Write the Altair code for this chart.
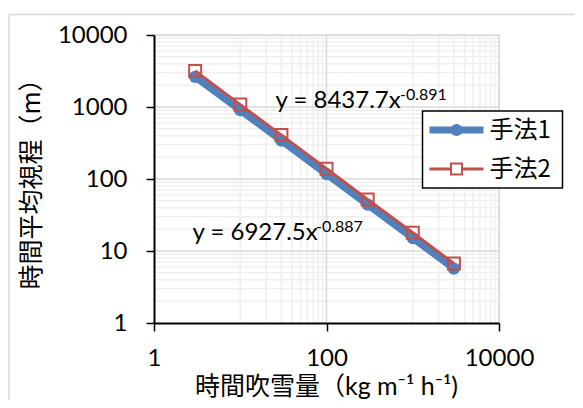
import altair as alt
import pandas as pd

# ---- data ----
x_vals = [3, 10, 30, 100, 300, 1000, 3000]
method1 = [2620, 900, 340, 117, 44, 15.1, 5.7]
method2 = [3170, 1080, 407, 139, 52, 17.9, 6.7]
series_names = ["手法1", "手法2"]
x_ticks = [1, 100, 10000]
y_ticks = [1, 10, 100, 1000, 10000]
x_minor = [10, 20, 30, 40, 50, 60, 70, 80, 90, 1000, 2000, 3000, 4000, 5000, 6000, 7000, 8000, 9000]
x_major = [100, 10000]
y_minor = [k * 10 ** n for n in range(4) for k in range(2, 10)]
y_major = [10, 100, 1000, 10000]
eq_main = ["y = 8437.7x", "y = 6927.5x"]
eq_exp = ["-0.891", "-0.887"]
x_title = "時間吹雪量（kg m⁻¹ h⁻¹)"
y_title = "時間平均視程（m）"

BLUE = "#4F81BD"
RED = "#C0504D"
LAT = "Lato, Noto Sans CJK JP"
CJK = "Noto Sans CJK JP, Lato"

xs = alt.Scale(type="log", domain=[1, 10000])
ys = alt.Scale(type="log", domain=[1, 10000])

common_axis = dict(title=None, grid=False, domainColor="black", domainWidth=2,
                   tickColor="black", tickWidth=1.5, tickSize=8, labelFont="Lato",
                   labelFontSize=24, labelColor="black", labelFlush=False,
                   labelOverlap=False, format="d", zindex=1)
x_axis = alt.Axis(values=x_ticks, labelPadding=15, **common_axis)
y_axis = alt.Axis(values=y_ticks, labelPadding=19, **common_axis)

X = alt.X("x:Q", scale=xs, axis=x_axis)
Y = alt.Y("y:Q", scale=ys, axis=y_axis)

df1 = pd.DataFrame({"x": x_vals, "y": method1})
df2 = pd.DataFrame({"x": x_vals, "y": method2})

gx_minor = alt.Chart(pd.DataFrame({"x": x_minor})).mark_rule(color="#efefef", strokeWidth=1.5).encode(x=X)
gy_minor = alt.Chart(pd.DataFrame({"y": y_minor})).mark_rule(color="#efefef", strokeWidth=1.5).encode(y=Y)
gx_major = alt.Chart(pd.DataFrame({"x": x_major})).mark_rule(color="#d9d9d9", strokeWidth=1.5).encode(x=X)
gy_major = alt.Chart(pd.DataFrame({"y": y_major})).mark_rule(color="#d9d9d9", strokeWidth=1.5).encode(y=Y)

line1 = alt.Chart(df1).mark_line(color=BLUE, strokeWidth=7).encode(x=X, y=Y)
pts1 = alt.Chart(df1).mark_point(shape="circle", filled=True, color=BLUE, size=150, opacity=1).encode(x=X, y=Y)
line2 = alt.Chart(df2).mark_line(color=RED, strokeWidth=3).encode(x=X, y=Y)
pts2 = alt.Chart(df2).mark_point(shape="square", filled=False, color=RED, size=144, strokeWidth=2, opacity=1).encode(x=X, y=Y)

one = pd.DataFrame({"a": [0]})


def txt(s, x, y, size, font=LAT, align="left", baseline="alphabetic", angle=0):
    return alt.Chart(pd.DataFrame({"t": [s]})).mark_text(
        font=font, fontSize=size, color="black", align=align, baseline=baseline, angle=angle
    ).encode(x=alt.value(x), y=alt.value(y), text="t:N")


eq1 = txt(eq_main[0], 121.5, 73, 24)
eq1s = txt(eq_exp[0], 246, 65, 16)
eq2 = txt(eq_main[1], 38.5, 205, 24)
eq2s = txt(eq_exp[1], 162, 197, 16)

xt = txt(x_title, 172.5, 352, 25, font=LAT, align="center", baseline="middle")
yt = txt(y_title, -122.5, 143, 25, font=CJK, align="center", baseline="middle", angle=270)

leg_box = alt.Chart(one).mark_rect(fill="white", stroke="black", strokeWidth=1.5).encode(
    x=alt.value(268.5), x2=alt.value(408.5), y=alt.value(76), y2=alt.value(153))
leg_l1 = alt.Chart(one).mark_rule(color=BLUE, strokeWidth=7).encode(
    x=alt.value(275.5), x2=alt.value(329.5), y=alt.value(95))
leg_p1 = alt.Chart(one).mark_point(shape="circle", filled=True, color=BLUE, size=150, opacity=1).encode(
    x=alt.value(302.5), y=alt.value(95))
leg_l2 = alt.Chart(one).mark_rule(color=RED, strokeWidth=3).encode(
    x=alt.value(275.5), x2=alt.value(329.5), y=alt.value(134))
leg_p2 = alt.Chart(one).mark_point(shape="square", fill="white", stroke=RED, size=120, strokeWidth=2, opacity=1, fillOpacity=1).encode(
    x=alt.value(302.5), y=alt.value(134))
leg_t1 = txt(series_names[0], 335.5, 96, 24, font=CJK, baseline="middle")
leg_t2 = txt(series_names[1], 335.5, 135, 24, font=CJK, baseline="middle")

border = alt.Chart(one).mark_rect(fillOpacity=0, stroke="#d9d9d9", strokeWidth=1.5).encode(
    x=alt.value(-145), x2=alt.value(700), y=alt.value(-20.5), y2=alt.value(600))

chart = alt.layer(
    gx_minor, gy_minor, gx_major, gy_major,
    line1, pts1, line2, pts2,
    eq1, eq1s, eq2, eq2s, xt, yt,
    leg_box, leg_l1, leg_p1, leg_l2, leg_p2, leg_t1, leg_t2,
    border,
).properties(
    width=345, height=288,
    autosize=alt.AutoSizeParams(type="none"),
    padding={"left": 146, "top": 27, "right": 76, "bottom": 77},
).configure_view(stroke=None).configure(background="white")

chart.save("out.html", embed_options={"renderer": "svg", "actions": False})
